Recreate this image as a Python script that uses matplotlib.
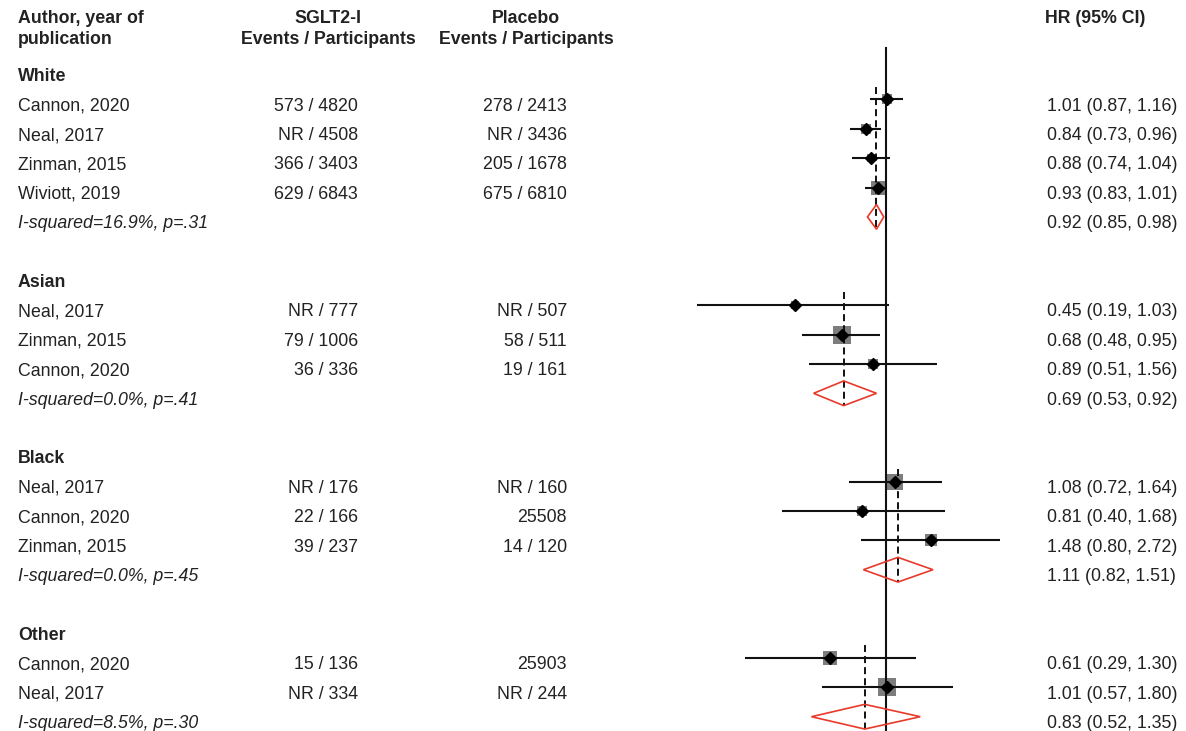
import matplotlib
matplotlib.use("Agg")
import matplotlib.pyplot as plt
from matplotlib.patches import Polygon
import numpy as np

plt.rcParams["font.family"] = ["Liberation Sans", "DejaVu Sans"]

# ---- data -------------------------------------------------------------
group_names = ["White", "Asian", "Black", "Other"]

white_authors = ["Cannon, 2020", "Neal, 2017", "Zinman, 2015", "Wiviott, 2019"]
white_sglt2 = ["573 / 4820", "NR / 4508", "366 / 3403", "629 / 6843"]
white_placebo = ["278 / 2413", "NR / 3436", "205 / 1678", "675 / 6810"]
white_hr = [1.01, 0.84, 0.88, 0.93]
white_lo = [0.87, 0.73, 0.74, 0.83]
white_hi = [1.16, 0.96, 1.04, 1.01]
white_weight = [20.1, 22.2, 14.4, 43.2]
white_pooled = (0.92, 0.85, 0.98)
white_het = "I-squared=16.9%, p=.31"

asian_authors = ["Neal, 2017", "Zinman, 2015", "Cannon, 2020"]
asian_sglt2 = ["NR / 777", "79 / 1006", "36 / 336"]
asian_placebo = ["NR / 507", "58 / 511", "19 / 161"]
asian_hr = [0.45, 0.68, 0.89]
asian_lo = [0.19, 0.48, 0.51]
asian_hi = [1.03, 0.95, 1.56]
asian_weight = [10.6, 65.1, 24.3]
asian_pooled = (0.69, 0.53, 0.92)
asian_het = "I-squared=0.0%, p=.41"

black_authors = ["Neal, 2017", "Cannon, 2020", "Zinman, 2015"]
black_sglt2 = ["NR / 176", "22 / 166", "39 / 237"]
black_placebo = ["NR / 160", "25508", "14 / 120"]
black_hr = [1.08, 0.81, 1.48]
black_lo = [0.72, 0.40, 0.80]
black_hi = [1.64, 1.68, 2.72]
black_weight = [56.1, 18.5, 25.4]
black_pooled = (1.11, 0.82, 1.51)
black_het = "I-squared=0.0%, p=.45"

other_authors = ["Cannon, 2020", "Neal, 2017"]
other_sglt2 = ["15 / 136", "NR / 334"]
other_placebo = ["25903", "NR / 244"]
other_hr = [0.61, 1.01]
other_lo = [0.29, 0.57]
other_hi = [1.30, 1.80]
other_weight = [37.0, 63.0]
other_pooled = (0.83, 0.52, 1.35)
other_het = "I-squared=8.5%, p=.30"

groups = [
    (group_names[0], white_authors, white_sglt2, white_placebo, white_hr, white_lo, white_hi, white_weight, white_pooled, white_het),
    (group_names[1], asian_authors, asian_sglt2, asian_placebo, asian_hr, asian_lo, asian_hi, asian_weight, asian_pooled, asian_het),
    (group_names[2], black_authors, black_sglt2, black_placebo, black_hr, black_lo, black_hi, black_weight, black_pooled, black_het),
    (group_names[3], other_authors, other_sglt2, other_placebo, other_hr, other_lo, other_hi, other_weight, other_pooled, other_het),
]

# ---- layout -----------------------------------------------------------
W, H, DPI = 1186, 731, 100
ROW0_PX, ROW_PX = 69.9, 29.4          # pixel y of first row, row pitch
y_top = (0 - ROW0_PX) / ROW_PX
y_bot = (H - ROW0_PX) / ROW_PX

XMIN, XMAX = 0.15, 3.0
PX_PER_LN = 114.0
NULL_PX = 886.0
ax_left = NULL_PX + PX_PER_LN * np.log(XMIN)
ax_right = NULL_PX + PX_PER_LN * np.log(XMAX)

TXT = "#222222"
FS = 12.8
CAP_PX = FS * DPI / 72.0 * 0.716
TEXT_DROP_PX = 5.0   # text sits slightly lower than the marks of its row
BASE = (TEXT_DROP_PX + CAP_PX / 2.0) / ROW_PX

fig = plt.figure(figsize=(W / DPI, H / DPI), dpi=DPI)
fig.patch.set_facecolor("white")

tax = fig.add_axes([0, 0, 1, 1])
tax.set_xlim(0, W)
tax.set_ylim(y_bot, y_top)
tax.axis("off")

ax = fig.add_axes([ax_left / W, 0, (ax_right - ax_left) / W, 1])
ax.set_xscale("log")
ax.set_xlim(XMIN, XMAX)
ax.set_ylim(y_bot, y_top)
ax.axis("off")
ax.patch.set_alpha(0)


def txt(x, row, s, ha="left", weight="normal", style="normal"):
    tax.text(x, row + BASE, s, ha=ha, va="baseline", fontsize=FS,
             fontweight=weight, fontstyle=style, color=TXT)


def px_row(y_px):
    """Row coordinate whose text is centred on pixel height y_px."""
    return (y_px - TEXT_DROP_PX - ROW0_PX) / ROW_PX


# headers
hdr1 = px_row(17)
hdr2 = px_row(38)
txt(18, hdr1, "Author, year of", weight="bold")
txt(18, hdr2, "publication", weight="bold")
txt(328, hdr1, "SGLT2-I", ha="center", weight="bold")
txt(328, hdr2, "Events / Participants", ha="center", weight="bold")
txt(526, hdr1, "Placebo", ha="center", weight="bold")
txt(526, hdr2, "Events / Participants", ha="center", weight="bold")
txt(1045, hdr1, "HR (95% CI)", weight="bold")

SQ_PX_PER_SQRTW = 2.23
PT = 72.0 / DPI

row = 0
for name, authors, sg, pl, hr, lo, hi, wt, pooled, het in groups:
    txt(18, row, name, weight="bold")
    first = row + 1
    for i in range(len(authors)):
        r = row + 1 + i
        txt(18, r, authors[i])
        txt(358, r, sg[i], ha="right")
        txt(567, r, pl[i], ha="right")
        txt(1047, r, f"{hr[i]:.2f} ({lo[i]:.2f}, {hi[i]:.2f})")
        side_pt = SQ_PX_PER_SQRTW * np.sqrt(wt[i]) * PT
        ax.scatter([hr[i]], [r], marker="s", s=side_pt ** 2, color="#7d7d7d",
                   linewidths=0, zorder=2)
        ax.plot([lo[i], hi[i]], [r, r], color="#111111", lw=1.5,
                solid_capstyle="butt", zorder=3)
        ax.plot([hr[i]], [r], marker="D", ms=6.2, color="#000000",
                markeredgewidth=1.0, markeredgecolor="#000000", zorder=4)
    prow = row + 1 + len(authors)
    p_hr, p_lo, p_hi = pooled
    txt(18, prow, het, style="italic")
    txt(1047, prow, f"{p_hr:.2f} ({p_lo:.2f}, {p_hi:.2f})")
    hh = 0.42
    ax.add_patch(Polygon([(p_lo, prow), (p_hr, prow - hh), (p_hi, prow), (p_hr, prow + hh)],
                         closed=True, facecolor="none", edgecolor="#e8392b",
                         lw=1.2, zorder=5))
    ax.plot([p_hr, p_hr], [first - 0.43, prow + 0.43], color="#111111",
            lw=1.4, dashes=(3.6, 2.1), zorder=3)
    row = prow + 2

# line of no effect
ax.plot([1.0, 1.0], [(48 - ROW0_PX) / ROW_PX, y_bot], color="#111111",
        lw=1.5, zorder=3)

fig.savefig("out.png", dpi=DPI, facecolor="white")
